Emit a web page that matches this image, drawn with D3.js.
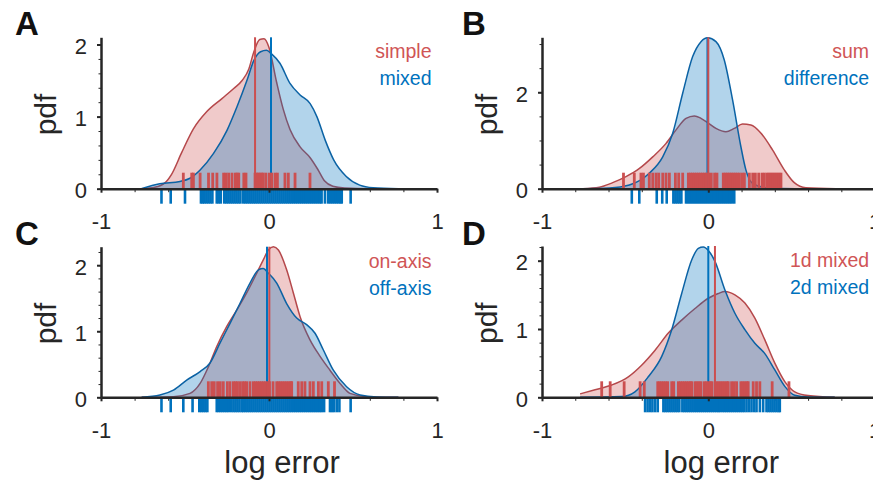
<!DOCTYPE html>
<html>
<head>
<meta charset="utf-8">
<script src="https://cdn.jsdelivr.net/npm/d3@7"></script>
<style>
  body { margin: 0; background: #fff; }
  text { font-family: "Liberation Sans", Arial, sans-serif; fill: #262626; }
</style>
</head>
<body>
<svg id="chart" width="873" height="480"></svg>
<script>
// panel texts
var panelLetters = ["A", "B", "C", "D"];
var redNames = ["simple", "sum", "on-axis", "1d mixed"];
var blueNames = ["mixed", "difference", "off-axis", "2d mixed"];
var xTicks = [-1, 0, 1];
var xMinor = [-0.8, -0.6, -0.4, -0.2, 0.2, 0.4, 0.6, 0.8];
var yMax = [2.1, 3.14, 2.28, 2.215];
var yMajor = [[0, 1, 2], [0, 2], [0, 1, 2], [0, 1, 2]];
var yStep = [0.2, 0.5, 0.2, 0.2];

// vertical marker lines
var redMark = [-0.083, 0.0, 0.002, 0.04];
var blueMark = [0.012, -0.005, -0.012, 0.0];

// density curves (log error, pdf)
var aRedX = [-0.76, -0.68, -0.62, -0.58, -0.52, -0.45, -0.37, -0.28, -0.21, -0.16, -0.12, -0.09, -0.055, -0.03, 0.0, 0.045, 0.085, 0.125, 0.185, 0.245, 0.29, 0.33, 0.38, 0.45, 0.6, 0.77];
var aRedY = [0, 0.02, 0.08, 0.2, 0.5, 0.83, 1.07, 1.25, 1.39, 1.5, 1.66, 1.9, 2.07, 2.08, 1.96, 1.48, 1.1, 0.82, 0.58, 0.43, 0.27, 0.11, 0.035, 0.01, 0, 0];
var aBlueX = [-0.76, -0.65, -0.53, -0.47, -0.41, -0.33, -0.25, -0.19, -0.13, -0.09, -0.05, -0.015, 0.015, 0.065, 0.125, 0.185, 0.245, 0.285, 0.335, 0.385, 0.46, 0.54, 0.62, 0.77];
var aBlueY = [0, 0.07, 0.1, 0.145, 0.26, 0.49, 0.81, 1.14, 1.51, 1.78, 1.9, 1.92, 1.87, 1.74, 1.46, 1.3, 1.18, 1.0, 0.67, 0.4, 0.17, 0.05, 0.014, 0];

var bRedX = [-0.755, -0.655, -0.575, -0.495, -0.414, -0.334, -0.254, -0.194, -0.134, -0.084, -0.044, -0.004, 0.046, 0.106, 0.156, 0.206, 0.256, 0.317, 0.387, 0.457, 0.517, 0.587, 0.767];
var bRedY = [0, 0.03, 0.125, 0.25, 0.42, 0.66, 0.94, 1.22, 1.46, 1.51, 1.46, 1.37, 1.25, 1.18, 1.25, 1.34, 1.32, 1.15, 0.8, 0.39, 0.125, 0.02, 0];
var bBlueX = [-0.755, -0.595, -0.475, -0.355, -0.274, -0.214, -0.154, -0.094, -0.044, -0.004, 0.046, 0.096, 0.146, 0.196, 0.226, 0.266, 0.346, 0.526, 0.767];
var bBlueY = [0, 0.014, 0.076, 0.32, 0.66, 1.15, 1.98, 2.74, 3.05, 3.13, 3.05, 2.67, 1.84, 0.87, 0.39, 0.11, 0.02, 0, 0];

var cRedX = [-0.758, -0.569, -0.47, -0.41, -0.361, -0.311, -0.252, -0.192, -0.133, -0.073, -0.034, -0.004, 0.026, 0.056, 0.105, 0.145, 0.185, 0.244, 0.304, 0.363, 0.423, 0.482, 0.581, 0.77];
var cRedY = [0, 0.01, 0.06, 0.21, 0.46, 0.77, 1.07, 1.32, 1.58, 1.88, 2.08, 2.23, 2.28, 2.23, 1.93, 1.58, 1.22, 0.87, 0.62, 0.41, 0.21, 0.06, 0.01, 0];
var cBlueX = [-0.758, -0.649, -0.569, -0.49, -0.41, -0.351, -0.292, -0.232, -0.173, -0.113, -0.063, -0.034, -0.004, 0.046, 0.105, 0.165, 0.224, 0.274, 0.323, 0.383, 0.462, 0.542, 0.641, 0.77];
var cBlueY = [0, 0.035, 0.11, 0.26, 0.39, 0.52, 0.82, 1.12, 1.42, 1.73, 1.93, 1.95, 1.88, 1.73, 1.42, 1.2, 1.1, 0.97, 0.72, 0.41, 0.16, 0.035, 0.005, 0];

var dRedX = [-0.771, -0.681, -0.581, -0.481, -0.401, -0.32, -0.24, -0.16, -0.08, 0.0, 0.06, 0.1, 0.16, 0.22, 0.28, 0.34, 0.4, 0.46, 0.52, 0.6, 0.76];
var dRedY = [0.05, 0.11, 0.18, 0.3, 0.47, 0.69, 0.94, 1.13, 1.3, 1.45, 1.52, 1.55, 1.5, 1.38, 1.16, 0.84, 0.5, 0.23, 0.08, 0.025, 0];
var dBlueX = [-0.771, -0.521, -0.441, -0.361, -0.28, -0.22, -0.16, -0.1, -0.06, -0.03, 0.0, 0.04, 0.1, 0.16, 0.22, 0.28, 0.34, 0.4, 0.46, 0.52, 0.6, 0.76];
var dBlueY = [0, 0.01, 0.08, 0.3, 0.6, 0.99, 1.52, 2.01, 2.18, 2.2, 2.15, 1.99, 1.57, 1.23, 0.99, 0.79, 0.64, 0.4, 0.16, 0.03, 0.005, 0];

// individual observations (rug)
var aRedRug = [-0.51, -0.46, -0.45, -0.41, -0.36, -0.335, -0.31, -0.27, -0.256, -0.24, -0.22, -0.2, -0.19, -0.18, -0.15, -0.137, -0.083, -0.073, -0.063, -0.053, -0.043, -0.034, -0.018, 0.002, 0.016, 0.036, 0.05, 0.095, 0.115, 0.155, 0.244];
var aBlueRug = [-0.64, -0.585, -0.5, -0.405, -0.395, -0.385, -0.373, -0.361, -0.349, -0.337, -0.311, -0.299, -0.287, -0.266, -0.254, -0.242, -0.23, -0.218, -0.206, -0.194, -0.182, -0.17, -0.153, -0.141, -0.129, -0.117, -0.105, -0.093, -0.081, -0.069, -0.057, -0.045, -0.033, -0.021, -0.009, 0.003, 0.015, 0.027, 0.039, 0.051, 0.063, 0.075, 0.087, 0.099, 0.111, 0.123, 0.135, 0.147, 0.159, 0.171, 0.183, 0.195, 0.207, 0.219, 0.231, 0.243, 0.255, 0.267, 0.279, 0.291, 0.303, 0.313, 0.333, 0.352, 0.364, 0.376, 0.388, 0.4, 0.412, 0.424, 0.433, 0.486];
var bRedRug = [-0.51, -0.445, -0.405, -0.39, -0.355, -0.334, -0.314, -0.298, -0.274, -0.254, -0.234, -0.198, -0.178, -0.154, -0.12, -0.108, -0.096, -0.084, -0.072, -0.06, -0.048, -0.036, -0.024, -0.012, 0.002, 0.018, 0.038, 0.052, 0.09, 0.102, 0.114, 0.126, 0.138, 0.15, 0.162, 0.174, 0.187, 0.203, 0.217, 0.247, 0.267, 0.283, 0.303, 0.323, 0.337, 0.353, 0.365, 0.377, 0.389, 0.401, 0.413, 0.425, 0.437];
var bBlueRug = [-0.46, -0.415, -0.31, -0.277, -0.25, -0.21, -0.198, -0.186, -0.174, -0.162, -0.134, -0.122, -0.11, -0.098, -0.086, -0.074, -0.062, -0.05, -0.038, -0.026, -0.014, -0.002, 0.01, 0.022, 0.034, 0.046, 0.058, 0.07, 0.082, 0.094, 0.106, 0.118, 0.13, 0.142, 0.156];
var cRedRug = [-0.361, -0.341, -0.326, -0.306, -0.29, -0.272, -0.248, -0.232, -0.212, -0.2, -0.188, -0.173, -0.157, -0.145, -0.133, -0.113, -0.093, -0.081, -0.069, -0.057, -0.045, -0.033, -0.021, -0.009, 0.003, 0.024, 0.046, 0.058, 0.07, 0.082, 0.094, 0.106, 0.118, 0.13, 0.135, 0.174, 0.195, 0.214, 0.244, 0.264, 0.294, 0.314, 0.353, 0.39];
var cBlueRug = [-0.64, -0.585, -0.51, -0.455, -0.415, -0.403, -0.391, -0.379, -0.367, -0.311, -0.299, -0.287, -0.275, -0.263, -0.251, -0.239, -0.225, -0.212, -0.2, -0.188, -0.176, -0.163, -0.153, -0.141, -0.129, -0.117, -0.105, -0.093, -0.081, -0.069, -0.057, -0.045, -0.033, -0.021, -0.009, 0.003, 0.015, 0.027, 0.039, 0.051, 0.063, 0.075, 0.087, 0.099, 0.111, 0.123, 0.135, 0.147, 0.159, 0.171, 0.183, 0.195, 0.207, 0.219, 0.231, 0.243, 0.255, 0.267, 0.279, 0.291, 0.303, 0.314, 0.328, 0.363, 0.375, 0.387, 0.403, 0.419, 0.486];
var dRedRug = [-0.641, -0.59, -0.506, -0.41, -0.385, -0.304, -0.292, -0.28, -0.268, -0.256, -0.244, -0.22, -0.208, -0.18, -0.168, -0.156, -0.144, -0.132, -0.12, -0.108, -0.1, -0.08, -0.068, -0.056, -0.044, -0.024, -0.012, 0.0, 0.012, 0.02, 0.04, 0.052, 0.064, 0.076, 0.088, 0.1, 0.112, 0.12, 0.14, 0.155, 0.17, 0.196, 0.208, 0.22, 0.232, 0.24, 0.27, 0.29, 0.31, 0.384, 0.485];
var dBlueRug = [-0.38, -0.365, -0.35, -0.336, -0.32, -0.304, -0.27, -0.258, -0.246, -0.234, -0.222, -0.21, -0.198, -0.186, -0.174, -0.156, -0.144, -0.132, -0.12, -0.108, -0.096, -0.084, -0.072, -0.06, -0.048, -0.036, -0.024, -0.012, 0.0, 0.012, 0.024, 0.036, 0.048, 0.06, 0.07, 0.084, 0.096, 0.108, 0.12, 0.132, 0.144, 0.156, 0.168, 0.18, 0.192, 0.204, 0.216, 0.23, 0.245, 0.26, 0.276, 0.29, 0.31, 0.33, 0.35, 0.362, 0.374, 0.386, 0.398, 0.41, 0.422, 0.43];

var RED = "#cc4f50", BLUE = "#0072bd";
var RED_LINE = "#b5484b", BLUE_LINE = "#0b62a4";
var INK = "#262626";

// layout of the four axes
var boxes = [
    {left: 101, right: 437, top: 37.3, bottom: 188.7, letterX: 15, letterY: 35},
    {left: 542, right: 874.6, top: 37.3, bottom: 188.7, letterX: 462, letterY: 35},
    {left: 101, right: 437, top: 246.7, bottom: 397.3, letterX: 15, letterY: 244.5},
    {left: 542, right: 874.6, top: 246, bottom: 397.3, letterX: 462, letterY: 244.5}
];
var redCurves = [[aRedX, aRedY], [bRedX, bRedY], [cRedX, cRedY], [dRedX, dRedY]];
var blueCurves = [[aBlueX, aBlueY], [bBlueX, bBlueY], [cBlueX, cBlueY], [dBlueX, dBlueY]];
var redRugs = [aRedRug, bRedRug, cRedRug, dRedRug];
var blueRugs = [aBlueRug, bBlueRug, cBlueRug, dBlueRug];

// plain hyphen for negatives, as in the original figure
var plainFormat = function(d) { return String(d); };

var svg = d3.select("#chart");

function drawPanel(i) {
    var b = boxes[i];
    var x = d3.scaleLinear().domain([-1, 1]).range([b.left, b.right]);
    var y = d3.scaleLinear().domain([0, yMax[i]]).range([b.bottom, b.top]);
    var g = svg.append("g");

    // minor ticks first so marks sit on top of them
    g.append("g")
        .attr("transform", "translate(0," + b.bottom + ")")
        .call(d3.axisBottom(x).tickValues(xMinor).tickSize(3.5).tickSizeOuter(0).tickFormat(""))
        .call(function(s) { s.select(".domain").remove(); });
    var yMinor = d3.range(0, yMax[i] + 1e-9, yStep[i]);
    g.append("g")
        .attr("transform", "translate(" + b.left + ",0)")
        .call(d3.axisLeft(y).tickValues(yMinor).tickSize(2.5).tickSizeOuter(0).tickFormat(""))
        .call(function(s) { s.select(".domain").remove(); });

    var area = d3.area()
        .x(function(d) { return x(d[0]); })
        .y0(y(0))
        .y1(function(d) { return y(d[1]); })
        .curve(d3.curveMonotoneX);
    var line = d3.line()
        .x(function(d) { return x(d[0]); })
        .y(function(d) { return y(d[1]); })
        .curve(d3.curveMonotoneX);

    var red = d3.zip(redCurves[i][0], redCurves[i][1]);
    var blue = d3.zip(blueCurves[i][0], blueCurves[i][1]);

    g.append("path").datum(red).attr("d", area)
        .style("fill", RED).style("fill-opacity", 0.3);
    g.append("path").datum(red).attr("d", line)
        .style("fill", "none").style("stroke", RED_LINE).style("stroke-width", 1.5);
    g.append("path").datum(blue).attr("d", area)
        .style("fill", BLUE).style("fill-opacity", 0.3);
    g.append("path").datum(blue).attr("d", line)
        .style("fill", "none").style("stroke", BLUE_LINE).style("stroke-width", 1.5);

    // centre markers
    g.append("line")
        .attr("x1", x(blueMark[i])).attr("x2", x(blueMark[i]))
        .attr("y1", y(0)).attr("y2", y(yMax[i]))
        .style("stroke", BLUE).style("stroke-width", 2);
    g.append("line")
        .attr("x1", x(redMark[i])).attr("x2", x(redMark[i]))
        .attr("y1", y(0)).attr("y2", y(yMax[i]))
        .style("stroke", RED).style("stroke-width", 2);

    // rugs: red above the axis, blue below
    g.selectAll(".rugRed")
        .data(redRugs[i])
        .enter().append("line")
        .attr("class", "rugRed")
        .attr("x1", function(d) { return x(d); })
        .attr("x2", function(d) { return x(d); })
        .attr("y1", b.bottom - 16)
        .attr("y2", b.bottom)
        .style("stroke", RED).style("stroke-width", 2.8);
    g.selectAll(".rugBlue")
        .data(blueRugs[i])
        .enter().append("line")
        .attr("class", "rugBlue")
        .attr("x1", function(d) { return x(d); })
        .attr("x2", function(d) { return x(d); })
        .attr("y1", b.bottom)
        .attr("y2", b.bottom + 15)
        .style("stroke", BLUE).style("stroke-width", 2.6);

    // main axes on top
    var xa = g.append("g")
        .attr("transform", "translate(0," + b.bottom + ")")
        .call(d3.axisBottom(x).tickValues(xTicks).tickSize(4).tickSizeOuter(0).tickPadding(21).tickFormat(plainFormat));
    var ya = g.append("g")
        .attr("transform", "translate(" + b.left + ",0)")
        .call(d3.axisLeft(y).tickValues(yMajor[i]).tickSize(4).tickSizeOuter(0).tickPadding(10).tickFormat(plainFormat));
    [xa, ya].forEach(function(a) {
        a.select(".domain").style("stroke", INK).style("stroke-width", 2.5);
        a.selectAll(".tick line").style("stroke", INK).style("stroke-width", 2);
        a.selectAll(".tick text").style("font-size", "22px").style("fill", INK)
            .style("font-family", "'Liberation Sans', Arial, sans-serif");
    });
    ya.selectAll(".tick text").attr("dy", "0.4em");
    g.selectAll(".tick line").style("stroke", INK);

    // y label
    g.append("text")
        .attr("transform", "translate(" + (b.left - 45) + "," + ((b.top + b.bottom) / 2 + 1.5) + ") rotate(-90)")
        .attr("text-anchor", "middle")
        .style("font-size", "30px")
        .text("pdf");

    // legend
    g.append("text")
        .attr("x", b.right - 5.5).attr("y", b.top + 21)
        .attr("text-anchor", "end")
        .style("font-size", "19.5px").style("fill", "#d05556")
        .text(redNames[i]);
    g.append("text")
        .attr("x", b.right - 5.5).attr("y", b.top + 48)
        .attr("text-anchor", "end")
        .style("font-size", "19.5px").style("fill", BLUE)
        .text(blueNames[i]);

    // panel letter
    g.append("text")
        .attr("x", b.letterX).attr("y", b.letterY)
        .style("font-size", "33px").style("font-weight", "bold").style("fill", "#111")
        .text(panelLetters[i]);

    // x label on bottom row
    if (i >= 2) {
        g.append("text")
            .attr("x", x(0) + 13).attr("y", 472.5)
            .attr("text-anchor", "middle")
            .style("font-size", "31px")
            .text("log error");
    }
}

for (var i = 0; i < 4; i++) {
    drawPanel(i);
}
</script>
</body>
</html>
